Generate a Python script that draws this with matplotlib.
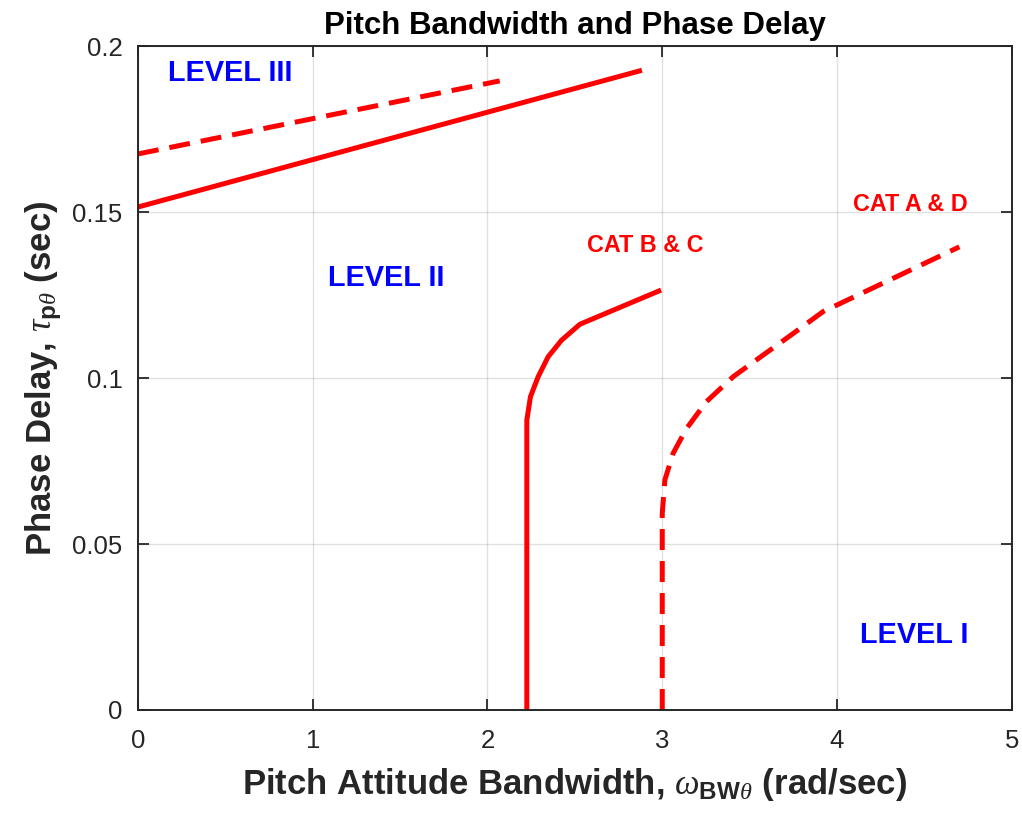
import matplotlib
matplotlib.use("Agg")
import matplotlib.pyplot as plt

plt.rcParams['font.family'] = ['Liberation Sans', 'DejaVu Sans']
plt.rcParams['mathtext.fontset'] = 'custom'
plt.rcParams['mathtext.rm'] = 'Liberation Sans:bold'
plt.rcParams['mathtext.it'] = 'Liberation Serif:italic'
plt.rcParams['mathtext.bf'] = 'Liberation Sans:bold'

# Level III boundaries
lvl3_dash_x = [0.0, 2.07]
lvl3_dash_y = [0.1675, 0.1895]
lvl3_solid_x = [0.0, 2.87]
lvl3_solid_y = [0.1515, 0.1925]

# Level I/II boundary, Category B & C (solid)
bc_x = [2.225, 2.225, 2.246, 2.29, 2.347, 2.424, 2.529, 2.98]
bc_y = [0.0, 0.0873, 0.0944, 0.1004, 0.1064, 0.1114, 0.1162, 0.1262]

# Level I/II boundary, Category A & D (dashed)
ad_x = [3.0, 3.0, 3.015, 3.062, 3.139, 3.253, 3.406, 3.577, 3.749, 3.92, 4.70]
ad_y = [0.0, 0.0593, 0.0693, 0.0773, 0.0848, 0.0929, 0.1004, 0.1069, 0.1134, 0.1200, 0.1395]

x_ticks = [0, 1, 2, 3, 4, 5]
y_ticks = [0, 0.05, 0.1, 0.15, 0.2]
y_tick_labels = ['0', '0.05', '0.1', '0.15', '0.2']

dark = '#262626'

fig = plt.figure(figsize=(10.22, 8.19), dpi=100)
ax = fig.add_axes([0.135, 0.1331, 0.855, 0.8107])

red = '#ff0000'
lw = 3.6
dash = (0, (4.2, 2.2))
ax.plot(lvl3_dash_x, lvl3_dash_y, color=red, lw=lw, linestyle=dash)
ax.plot(lvl3_solid_x, lvl3_solid_y, color=red, lw=lw)
ax.plot(bc_x, bc_y, color=red, lw=lw)
ax.plot(ad_x, ad_y, color=red, lw=lw, linestyle=dash)

blue = '#0000ff'
ax.text(0.53, 0.192, 'LEVEL III', color=blue, fontsize=20.8, fontweight='bold',
        ha='center', va='center')
ax.text(1.42, 0.130, 'LEVEL II', color=blue, fontsize=20.8, fontweight='bold',
        ha='center', va='center')
ax.text(4.44, 0.0226, 'LEVEL I', color=blue, fontsize=20.8, fontweight='bold',
        ha='center', va='center')
ax.text(2.90, 0.1398, 'CAT B & C', color=red, fontsize=16.8, fontweight='bold',
        ha='center', va='center')
ax.text(4.42, 0.1524, 'CAT A & D', color=red, fontsize=16.8, fontweight='bold',
        ha='center', va='center')

ax.set_xlim(0, 5)
ax.set_ylim(0, 0.2)
ax.set_xticks(x_ticks)
ax.set_yticks(y_ticks)
ax.set_yticklabels(y_tick_labels)
ax.grid(True, color='#000000', alpha=0.12, lw=1.0)
ax.set_axisbelow(True)
ax.tick_params(direction='in', length=8, width=1.3, colors=dark, labelsize=18.5,
               top=True, right=True)
ax.tick_params(axis='x', pad=14)
ax.tick_params(axis='y', pad=11)
for s in ax.spines.values():
    s.set_color(dark)
    s.set_linewidth(1.4)

ax.set_title('Pitch Bandwidth and Phase Delay', fontsize=22.5, fontweight='bold',
             color='black', pad=9)
ax.set_xlabel(r'Pitch Attitude Bandwidth, $\omega_{\mathbf{BW}\theta}$ (rad/sec)',
              fontsize=25, fontweight='bold', color=dark, labelpad=9)
ax.set_ylabel(r'Phase Delay, $\tau_{\mathbf{p}\theta}$ (sec)',
              fontsize=25, fontweight='bold', color=dark, labelpad=6)

fig.savefig('out.png', dpi=100)
